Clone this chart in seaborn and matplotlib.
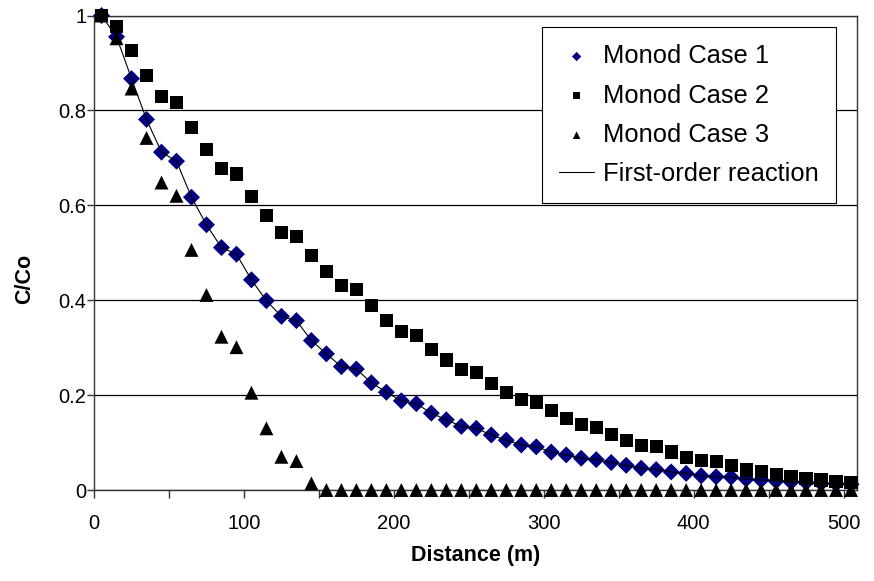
import numpy as np
import pandas as pd
import seaborn as sns
import matplotlib.pyplot as plt
from matplotlib.ticker import FixedLocator

# values
distance = [5, 15, 25, 35, 45, 55, 65, 75, 85, 95,
            105, 115, 125, 135, 145, 155, 165, 175, 185, 195,
            205, 215, 225, 235, 245, 255, 265, 275, 285, 295,
            305, 315, 325, 335, 345, 355, 365, 375, 385, 395,
            405, 415, 425, 435, 445, 455, 465, 475, 485, 495, 505]

monod_case1 = [1.0, 0.955, 0.867, 0.781, 0.712, 0.693, 0.617, 0.559, 0.511, 0.497,
               0.443, 0.399, 0.366, 0.357, 0.315, 0.287, 0.260, 0.255, 0.226, 0.206,
               0.188, 0.182, 0.162, 0.148, 0.134, 0.130, 0.116, 0.105, 0.095, 0.091,
               0.080, 0.074, 0.067, 0.064, 0.058, 0.052, 0.046, 0.043, 0.038, 0.035,
               0.030, 0.028, 0.027, 0.023, 0.021, 0.019, 0.017, 0.016, 0.014, 0.013, 0.012]

monod_case2 = [1.0, 0.977, 0.926, 0.874, 0.830, 0.816, 0.764, 0.717, 0.677, 0.666,
               0.619, 0.578, 0.543, 0.535, 0.494, 0.460, 0.431, 0.422, 0.388, 0.357,
               0.334, 0.326, 0.297, 0.274, 0.254, 0.247, 0.225, 0.205, 0.190, 0.184,
               0.167, 0.150, 0.138, 0.131, 0.117, 0.105, 0.094, 0.091, 0.080, 0.068,
               0.062, 0.060, 0.051, 0.042, 0.039, 0.032, 0.028, 0.025, 0.021, 0.018, 0.016]

monod_case3 = [1.0, 0.952, 0.846, 0.742, 0.648, 0.620, 0.506, 0.411, 0.323, 0.301,
               0.205, 0.130, 0.070, 0.061, 0.014, 0.0, 0.0, 0.0, 0.0, 0.0,
               0.0, 0.0, 0.0, 0.0, 0.0, 0.0, 0.0, 0.0, 0.0, 0.0,
               0.0, 0.0, 0.0, 0.0, 0.0, 0.0, 0.0, 0.0, 0.0, 0.0,
               0.0, 0.0, 0.0, 0.0, 0.0, 0.0, 0.0, 0.0, 0.0, 0.0, 0.0]

first_order = [1.0, 0.955, 0.867, 0.781, 0.712, 0.693, 0.617, 0.559, 0.511, 0.497,
               0.443, 0.399, 0.366, 0.357, 0.315, 0.287, 0.260, 0.255, 0.226, 0.206,
               0.188, 0.182, 0.162, 0.148, 0.134, 0.130, 0.116, 0.105, 0.095, 0.091,
               0.080, 0.074, 0.067, 0.064, 0.058, 0.052, 0.046, 0.043, 0.038, 0.035,
               0.030, 0.028, 0.027, 0.023, 0.021, 0.019, 0.017, 0.016, 0.014, 0.013, 0.012]

df = pd.DataFrame({'distance': distance, 'case1': monod_case1, 'case2': monod_case2,
                   'case3': monod_case3, 'first': first_order})

sns.set_theme(style='white')
plt.rcParams['font.family'] = ['Liberation Sans', 'DejaVu Sans']
plt.rcParams['text.color'] = 'black'
plt.rcParams['axes.labelcolor'] = 'black'
plt.rcParams['xtick.color'] = 'black'
plt.rcParams['ytick.color'] = 'black'

fig = plt.figure(figsize=(8.74, 5.81), dpi=100)
ax = fig.add_axes([0.1076, 0.1566, 0.8730, 0.8167])

sns.scatterplot(data=df, x='distance', y='case1', marker='D', s=75, color='#000080',
                edgecolor='none', linewidth=0, ax=ax, zorder=3, label='Monod Case 1',
                clip_on=False)
sns.scatterplot(data=df, x='distance', y='case2', marker='s', s=90, color='black',
                edgecolor='none', linewidth=0, ax=ax, zorder=4, label='Monod Case 2',
                clip_on=False)
sns.scatterplot(data=df, x='distance', y='case3', marker='^', s=100, color='black',
                edgecolor='none', linewidth=0, ax=ax, zorder=5, label='Monod Case 3',
                clip_on=False)
sns.lineplot(data=df, x='distance', y='first', color='black', linewidth=0.8,
             ax=ax, zorder=6, label='First-order reaction')

ax.set_xlim(0, 509)
ax.set_ylim(0, 1)

ax.set_xticks([0, 100, 200, 300, 400, 500])
ax.xaxis.set_minor_locator(FixedLocator([50, 150, 250, 350, 450]))
ax.set_yticks([0, 0.2, 0.4, 0.6, 0.8, 1.0])
ax.set_yticklabels(['0', '0.2', '0.4', '0.6', '0.8', '1'])
ax.tick_params(axis='both', which='both', direction='out', length=6, width=1,
               color='#333333', labelsize=14.5, bottom=True, left=True)
ax.tick_params(axis='x', which='major', pad=11)
ax.tick_params(axis='y', which='major', length=5, pad=0.5)

ax.grid(axis='y', color='black', linewidth=0.9)
ax.set_axisbelow(True)
for side in ['left', 'bottom', 'right', 'top']:
    ax.spines[side].set_color('#333333')
    ax.spines[side].set_linewidth(1)

ax.set_xlabel('Distance (m)', fontsize=15.5, fontweight='bold', labelpad=9)
ax.set_ylabel('C/Co', fontsize=15.5, fontweight='bold')
ax.yaxis.set_label_coords(-0.077, 0.444)

handles, labels = ax.get_legend_handles_labels()
order = ['Monod Case 1', 'Monod Case 2', 'Monod Case 3', 'First-order reaction']
hmap = dict(zip(labels, handles))
leg = ax.legend([hmap[k] for k in order], order, loc='upper right',
                bbox_to_anchor=(0.972, 0.975), borderaxespad=0, fontsize=18.4,
                frameon=True, fancybox=False, edgecolor='black', framealpha=1,
                markerscale=0.55, handlelength=1.37, handletextpad=0.35,
                labelspacing=0.6, borderpad=0.66)
leg.get_frame().set_linewidth(0.8)

fig.savefig('out.png', dpi=100, facecolor='white')
